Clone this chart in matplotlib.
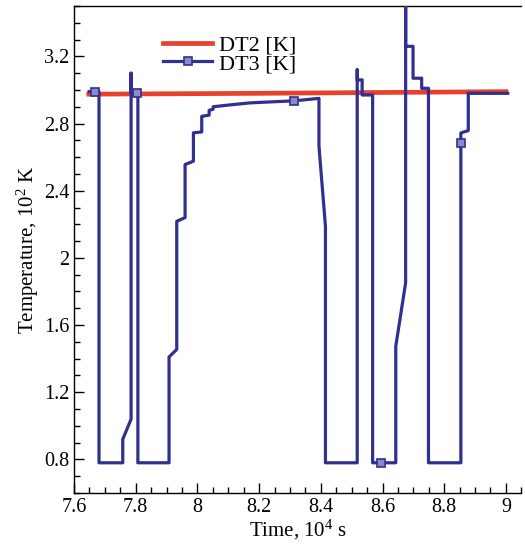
import matplotlib
matplotlib.use("Agg")
import matplotlib.pyplot as plt
from matplotlib.lines import Line2D
from matplotlib.ticker import MultipleLocator

plt.rcParams["font.family"] = ["Liberation Serif", "DejaVu Serif"]
plt.rcParams["mathtext.fontset"] = "custom"
plt.rcParams["mathtext.rm"] = "Liberation Serif"
plt.rcParams["mathtext.it"] = "Liberation Serif"

# DT2: reference sensor, almost flat
dt2_time = [7.648, 8.2, 9.0]
dt2_temp = [2.975, 2.98, 2.99]

# DT3: switching sensor (time in 1e4 s, temperature in 1e2 K)
dt3_time = [7.649, 7.668, 7.681, 7.681, 7.758, 7.758, 7.785, 7.785, 7.785, 7.803,
            7.807, 7.807, 7.908, 7.908, 7.933, 7.933, 7.960, 7.960, 7.987, 7.987,
            8.014, 8.014, 8.038, 8.038, 8.051, 8.051, 8.10, 8.17, 8.25, 8.312,
            8.394, 8.394, 8.415, 8.415, 8.518, 8.518, 8.518, 8.534, 8.534, 8.568,
            8.568, 8.596, 8.643, 8.643, 8.675, 8.675, 8.675, 8.699, 8.699, 8.727,
            8.727, 8.749, 8.749, 8.854, 8.854, 8.854, 8.878, 8.878, 9.006]
dt3_temp = [2.99, 2.99, 2.99, 0.78, 0.78, 0.92, 1.04, 3.10, 2.98, 2.98,
            2.98, 0.78, 0.78, 1.41, 1.455, 2.218, 2.24, 2.556, 2.576, 2.745,
            2.75, 2.843, 2.85, 2.879, 2.885, 2.90, 2.91, 2.923, 2.93, 2.935,
            2.95, 2.666, 2.189, 0.78, 0.78, 3.12, 3.06, 3.06, 2.97, 2.97,
            0.78, 0.78, 0.78, 1.474, 1.852, 3.60, 3.26, 3.26, 3.07, 3.07,
            3.01, 3.01, 0.78, 0.78, 2.685, 2.744, 2.758, 2.98, 2.98]
dt3_marker_idx = [1, 9, 29, 41, 54]

RED = "#e8402c"
BLUE = "#30308f"
MFC = "#8a8ac8"

fig = plt.figure(figsize=(5.25, 5.45), dpi=100)
ax = fig.add_axes([0.141, 0.0954, 0.852, 0.8936])

ax.plot(dt2_time, dt2_temp, color=RED, lw=3.4, zorder=2)
ax.plot(dt3_time, dt3_temp, color=BLUE, lw=2.3, marker="s", ms=5.5,
        mfc=MFC, mec=BLUE, mew=1.2, markevery=dt3_marker_idx, zorder=3)

ax.set_xlim(7.6, 9.05)
ax.set_ylim(0.6, 3.5)
ax.xaxis.set_minor_locator(MultipleLocator(0.05))
ax.yaxis.set_minor_locator(MultipleLocator(0.1))
ax.set_xticks([7.6, 7.8, 8.0, 8.2, 8.4, 8.6, 8.8, 9.0])
ax.set_xticklabels(["7.6", "7.8", "8", "8.2", "8.4", "8.6", "8.8", "9"])
ax.set_yticks([0.8, 1.2, 1.6, 2.0, 2.4, 2.8, 3.2])
ax.set_yticklabels(["0.8", "1.2", "1.6", "2", "2.4", "2.8", "3.2"])
ax.tick_params(which="major", direction="in", length=7, width=1, labelsize=14.5)
ax.tick_params(which="minor", direction="in", length=4, width=1)
ax.tick_params(top=False, right=False, which="both")
for s in ax.spines.values():
    s.set_linewidth(1)
ax.spines["right"].set_visible(False)

ax.set_xlabel("Time, 10$^4$ s", fontsize=15, labelpad=1)
ax.set_ylabel("Temperature, 10$^2$ K", fontsize=15, labelpad=2)

handles = [Line2D([], [], color=RED, lw=3.4),
           Line2D([], [], color=BLUE, lw=2.3, marker="s", ms=5.5,
                  mfc=MFC, mec=BLUE, mew=1.2)]
ax.legend(handles, ["DT2 [K]", "DT3 [K]"], loc="upper left",
          bbox_to_anchor=(0.165, 0.972), frameon=False, fontsize=16,
          handlelength=2.2, handletextpad=0.3, labelspacing=-0.1, borderpad=0.2)

fig.savefig("out.png", dpi=100)
